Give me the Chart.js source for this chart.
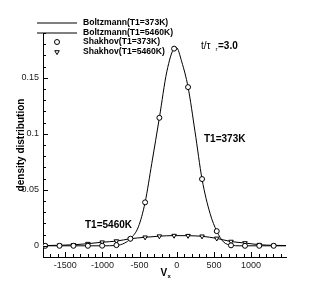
<!DOCTYPE html>
<html>
<head>
<meta charset="utf-8">
<script src="https://cdn.jsdelivr.net/npm/chart.js@4"></script>
<style>
  body { margin: 0; background: #fff; }
</style>
</head>
<body>
<canvas id="dist" width="327" height="291"></canvas>
<script>
// marker positions (Shakhov) and values
var vx = [-1770, -1578, -1390, -1196, -1004, -812, -624, -426, -234, -36, 152, 340, 538, 730, 918, 1110, 1304];
var shakhov373 = [0, 0, 0, 0, 0.0001, 0.0006, 0.0063, 0.0388, 0.1143, 0.1760, 0.1417, 0.0596, 0.0131, 0.0004, 0, 0, 0];
var shakhov5460 = [0.0002, 0.0005, 0.0009, 0.0019, 0.0032, 0.0042, 0.0063, 0.0076, 0.0086, 0.0091, 0.0090, 0.0085, 0.0066, 0.0038, 0.0025, 0.0010, 0.0004];

// Boltzmann curves (solid lines)
var boltzX373 = [-1800, -1200, -1000, -812, -700, -624, -516, -426, -336, -234, -134, -36, -5, 67, 152, 246, 340, 448, 538, 627, 730, 850, 1470];
var boltz373 = [0, 0, 0, 0.0003, 0.0025, 0.0063, 0.0170, 0.0388, 0.0736, 0.1143, 0.1554, 0.1762, 0.1770, 0.1643, 0.1417, 0.1018, 0.0596, 0.0289, 0.0131, 0.0036, 0.0005, 0, 0];
var boltzX5460 = [-1800, -1770, -1578, -1390, -1196, -1004, -812, -624, -426, -234, -36, 152, 340, 538, 730, 918, 1110, 1304, 1470];
var boltz5460 = [0.0002, 0.0002, 0.0005, 0.0009, 0.0019, 0.0032, 0.0042, 0.0063, 0.0076, 0.0086, 0.0091, 0.0090, 0.0085, 0.0066, 0.0038, 0.0025, 0.0010, 0.0004, 0.0002];

var xTicks = [-1500, -1000, -500, 0, 500, 1000];
var yTicks = [0, 0.05, 0.1, 0.15];
var yTickLabels = ['0', '0.05', '0.1', '0.15'];
var legendLabels = ['Boltzmann(T1=373K)', 'Boltzmann(T1=5460K)', 'Shakhov(T1=373K)', 'Shakhov(T1=5460K)'];

function pts(xs, ys) {
  return xs.map(function (v, i) { return {x: v, y: ys[i]}; });
}

Chart.defaults.font.family = '"Liberation Sans", Arial, sans-serif';
Chart.defaults.color = '#222';

// tecplot style ticks pointing into the plot, plus the text labels
var decorations = {
  id: 'decorations',
  afterDraw: function (chart) {
    var ctx = chart.ctx, a = chart.chartArea;
    var x = chart.scales.x, y = chart.scales.y;
    ctx.save();
    ctx.strokeStyle = '#000';
    ctx.lineWidth = 1;
    ctx.beginPath();
    for (var v = -1800; v <= 1470; v += 100) {
      var px = Math.round(x.getPixelForValue(v)) + 0.5;
      var len = (v % 500 === 0) ? 5 : 3;
      ctx.moveTo(px, a.bottom);
      ctx.lineTo(px, a.bottom - len);
    }
    for (var i = -1; i <= 19; i++) {
      var py = Math.round(y.getPixelForValue(i / 100)) + 0.5;
      var l2 = (i % 5 === 0) ? 5 : 3;
      ctx.moveTo(a.left, py);
      ctx.lineTo(a.left + l2, py);
    }
    ctx.stroke();

    // legend
    ctx.font = 'bold 8.6px "Liberation Sans", Arial, sans-serif';
    ctx.textBaseline = 'middle';
    ctx.textAlign = 'left';
    var rows = [22.5, 32.5, 42, 52];
    for (var k = 0; k < 4; k++) {
      var ry = rows[k];
      ctx.strokeStyle = '#000';
      if (k < 2) {
        ctx.beginPath();
        ctx.moveTo(37, ry + 0.5);
        ctx.lineTo(77, ry + 0.5);
        ctx.stroke();
      } else {
        var ds = chart.data.datasets[k - 2];
        ctx.fillStyle = '#fff';
        ctx.lineWidth = 1;
        Chart.helpers.drawPoint(ctx, {
          pointStyle: ds.pointStyle, radius: ds.pointRadius, rotation: ds.pointRotation || 0,
          borderWidth: 1
        }, 57, ry);
      }
      ctx.fillStyle = '#000';
      ctx.fillText(legendLabels[k], 83, ry);
    }

    ctx.font = 'bold 10px "Liberation Sans", Arial, sans-serif';
    ctx.fillText('T1=373K', 204, 139);
    ctx.fillText('T1=5460K', 85, 225);
    ctx.font = '10px "Liberation Sans", Arial, sans-serif';
    ctx.fillText('t/\u03C4', 201, 46);
    ctx.font = '6px "Liberation Sans", Arial, sans-serif';
    ctx.fillText('r', 215.5, 49);
    ctx.font = 'bold 10px "Liberation Sans", Arial, sans-serif';
    ctx.fillText('=3.0', 218, 46);

    // x axis title
    ctx.font = 'bold 10px "Liberation Sans", Arial, sans-serif';
    ctx.fillText('V', 160.5, 273);
    ctx.font = 'bold 6px "Liberation Sans", Arial, sans-serif';
    ctx.fillText('x', 167.5, 276);
    ctx.restore();
  }
};

new Chart(document.getElementById('dist').getContext('2d'), {
  type: 'line',
  data: {
    datasets: [{
      label: legendLabels[2],
      data: pts(vx, shakhov373),
      showLine: false,
      pointStyle: 'circle',
      pointRadius: 2.5,
      pointBackgroundColor: '#fff',
      pointBorderColor: '#000',
      pointBorderWidth: 1,
      order: 0
    }, {
      label: legendLabels[3],
      data: pts(vx, shakhov5460),
      showLine: false,
      pointStyle: 'triangle',
      pointRotation: 180,
      pointRadius: 2.6,
      pointBackgroundColor: '#fff',
      pointBorderColor: '#000',
      pointBorderWidth: 1,
      order: 0
    }, {
      label: legendLabels[0],
      data: pts(boltzX373, boltz373),
      borderColor: '#000',
      borderWidth: 1,
      pointRadius: 0,
      cubicInterpolationMode: 'monotone',
      order: 1
    }, {
      label: legendLabels[1],
      data: pts(boltzX5460, boltz5460),
      borderColor: '#000',
      borderWidth: 1,
      pointRadius: 0,
      cubicInterpolationMode: 'monotone',
      order: 1
    }]
  },
  options: {
    responsive: false,
    animation: false,
    layout: { padding: { top: 33, right: 41, left: 0, bottom: 0 } },
    plugins: { legend: { display: false }, tooltip: { enabled: false } },
    scales: {
      x: {
        type: 'linear',
        min: -1800,
        max: 1470,
        grid: { display: false, drawTicks: false },
        border: { display: true, color: '#000', width: 1 },
        afterBuildTicks: function (s) { s.ticks = xTicks.map(function (v) { return {value: v}; }); },
        afterFit: function (s) { s.height = 34; },
        ticks: {
          font: { size: 9 },
          padding: 3,
          maxRotation: 0,
          callback: function (v) { return String(v); }
        }
      },
      y: {
        min: -0.01,
        max: 0.19,
        grid: { display: false, drawTicks: false },
        border: { display: true, color: '#000', width: 1 },
        afterBuildTicks: function (s) { s.ticks = yTicks.map(function (v) { return {value: v}; }); },
        afterFit: function (s) { s.width = 43; },
        ticks: {
          font: { size: 9 },
          padding: 4,
          callback: function (v) { var i = yTicks.indexOf(v); return i >= 0 ? yTickLabels[i] : ''; }
        },
        title: {
          display: true,
          text: 'density distribution',
          color: '#000',
          font: { size: 10, weight: 'bold' },
          padding: { top: 15 }
        }
      }
    }
  },
  plugins: [decorations]
});
</script>
</body>
</html>
